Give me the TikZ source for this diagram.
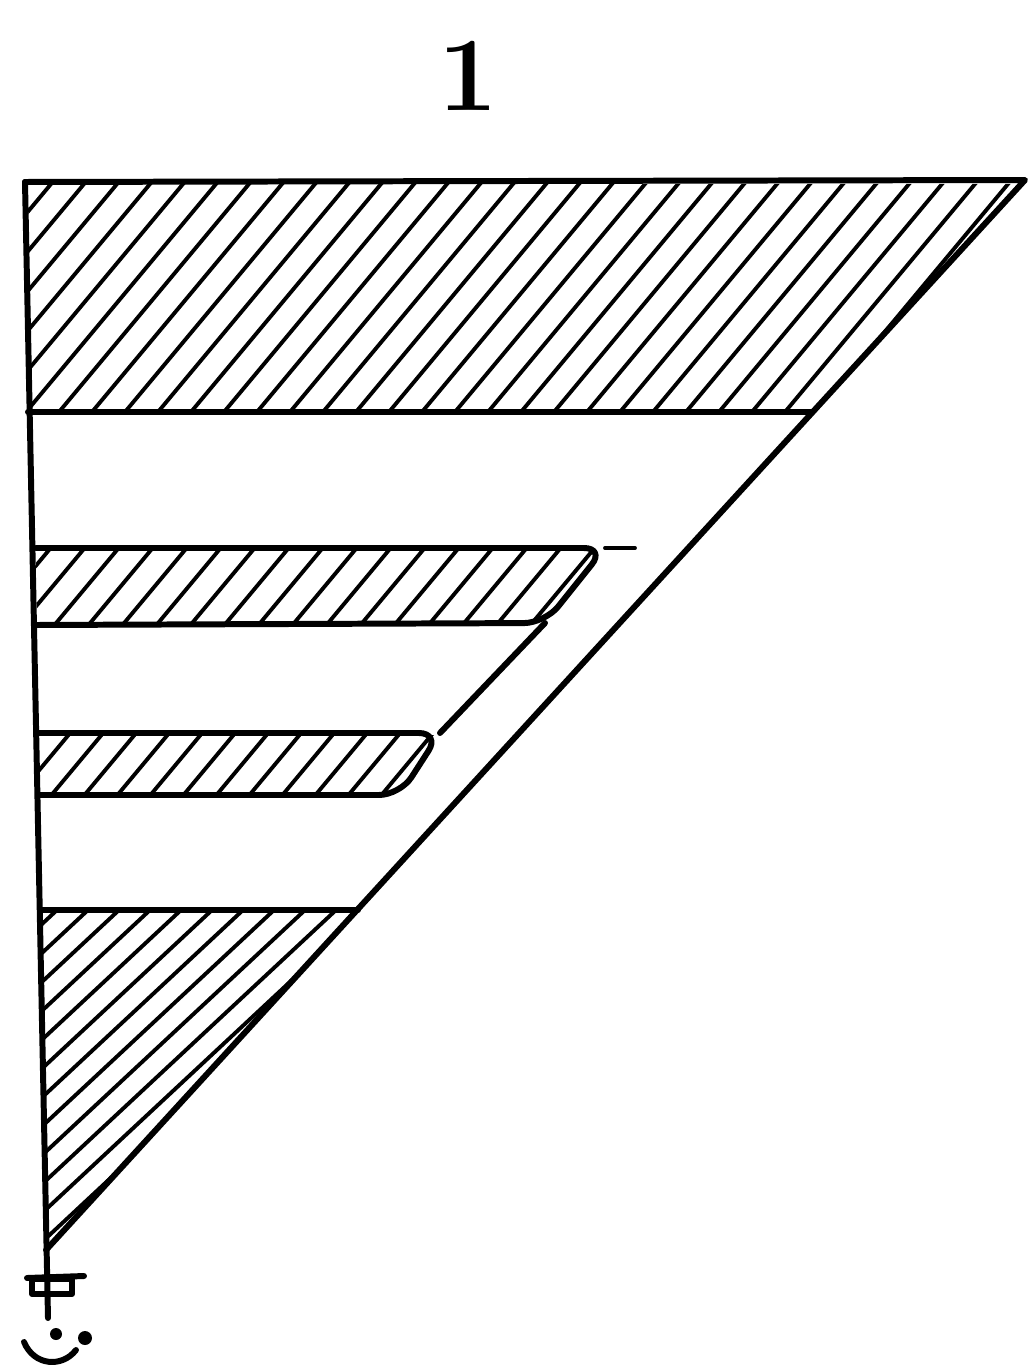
\documentclass[tikz,border=0pt]{standalone}
\usetikzlibrary{positioning}
\begin{document}
\begin{tikzpicture}[x=0.01cm, y=-0.01cm, line join=round, line cap=round,
	outline/.style={line width=1.7pt},
	hatchline/.style={line width=1.1pt}]
	\useasboundingbox[fill=white] (0,0) rectangle (1030,1370);
	% Corners and band ends:
	\coordinate (tl) at (25,182);
	\coordinate (tr) at (1025,180);
	\coordinate (apex) at (46,1250);
	\coordinate (foot) at (48,1318);
	\coordinate (b1r) at (812,412);
	\coordinate (b2tr) at (605,548);
	\coordinate (b2br) at (545,623);
	\coordinate (b3tr) at (440,733);
	\coordinate (b3br) at (400,795);
	\coordinate (b4r) at (358,910);
	\node[font=\fontsize{30}{30}\selectfont\bfseries] (lbl) at (468,76) {1};
	% Hatching:
	\begin{scope}
		\clip (28,184) -- (1020,184) -- (b1r) -- (30,410) -- cycle;
		\foreach \i in {-220,-187,...,1040} \draw[hatchline] (\i,430) -- ++(300,-360);
	\end{scope}
	\begin{scope}
		\clip (36,550) -- (600,550) -- (b2br) -- (37,622) -- cycle;
		\foreach \i in {-60,-26,...,620} \draw[hatchline] (\i,640) -- ++(120,-144);
	\end{scope}
	\begin{scope}
		\clip (38,735) -- (436,735) -- (b3br) -- (40,793) -- cycle;
		\foreach \i in {-60,-27,...,460} \draw[hatchline] (\i,810) -- ++(100,-120);
	\end{scope}
	\begin{scope}
		\clip (40,912) -- (b4r) -- (apex) -- cycle;
		\foreach \i in {-360,-329,...,400} \draw[hatchline] (\i,1270) -- ++(400,-373);
	\end{scope}
	% Outlines:
	\draw[outline] (tl) -- (tr) -- (apex);
	\draw[outline] (tl) -- (foot);
	\draw[outline] (28,412) -- (b1r);
	\draw[outline, rounded corners=6] (36,548) -- (b2tr) -- (b2br) -- (36,625);
	\draw[outline] (b2br) -- (b3tr);
	\draw[outline, rounded corners=6] (38,733) -- (b3tr) -- (b3br) -- (38,795);
	\draw[outline] (40,910) -- (b4r);
	\draw[hatchline] (b2tr) -- ++(30,0);
	% Mark at the foot:
	\draw[outline] (27,1278) -- (84,1276);
	\draw[outline] (32,1279) rectangle (72,1294);
	\draw[outline] (24,1342) .. controls (34,1366) and (62,1368) .. (76,1350);
	\fill (56,1334) circle (6);
	\fill (85,1338) circle (7);
\end{tikzpicture}
\end{document}
